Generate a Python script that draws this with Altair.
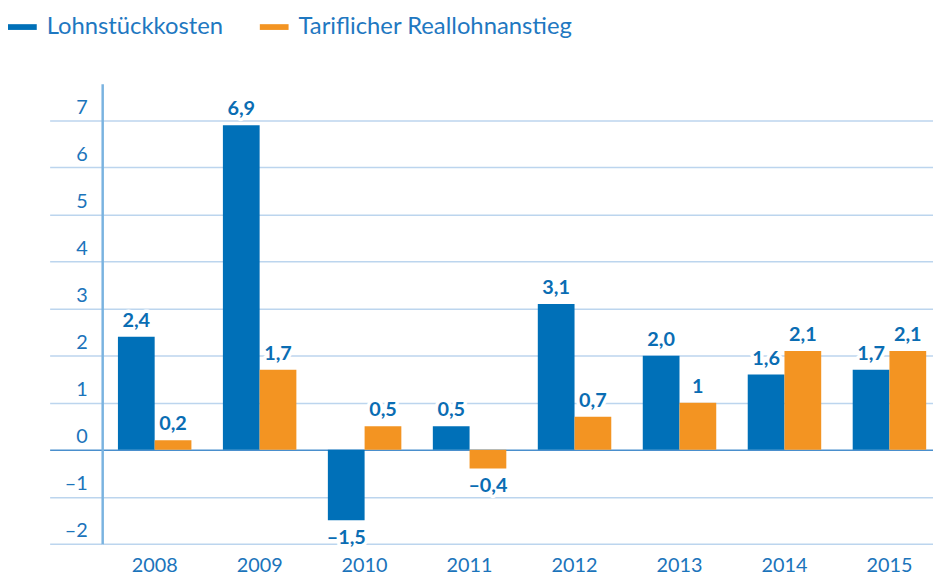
import altair as alt
import pandas as pd

years = ["2008", "2009", "2010", "2011", "2012", "2013", "2014", "2015"]
series = ["Lohnstückkosten", "Tariflicher Reallohnanstieg"]
lohn = [2.4, 6.9, -1.5, 0.5, 3.1, 2.0, 1.6, 1.7]
tarif = [0.2, 1.7, 0.5, -0.4, 0.7, 1.0, 2.1, 2.1]
lohn_labels = ["2,4", "6,9", "–1,5", "0,5", "3,1", "2,0", "1,6", "1,7"]
tarif_labels = ["0,2", "1,7", "0,5", "–0,4", "0,7", "1", "2,1", "2,1"]
y_ticks = [-2, -1, 0, 1, 2, 3, 4, 5, 6, 7]
colors = ["#0070b8", "#f39422"]

rows = []
for i, yr in enumerate(years):
    rows.append({"year": yr, "series": series[0], "value": lohn[i], "label": lohn_labels[i]})
    rows.append({"year": yr, "series": series[1], "value": tarif[i], "label": tarif_labels[i]})
df = pd.DataFrame(rows)

FONT = "Lato"
TEXT = "#1b74bb"
GRID = "#bcd5ee"

x_scale = alt.Scale(paddingInner=0.3, paddingOuter=0.15)

x_enc = alt.X(
    "year:N",
    sort=years,
    scale=x_scale,
    axis=alt.Axis(
        title=None, domain=False, ticks=False, labelAngle=0,
        labelFont=FONT, labelFontSize=20, labelColor=TEXT,
        labelPadding=12, labelBaseline="top",
    ),
)
xoff = alt.XOffset("series:N", sort=series)
y_scale = alt.Scale(domain=[-2, 7.78], nice=False, zero=False)

bars = alt.Chart(df).mark_bar().encode(
    x=x_enc,
    xOffset=xoff,
    y=alt.Y(
        "value:Q",
        scale=y_scale,
        axis=alt.Axis(
            title=None,
            values=y_ticks,
            grid=True,
            gridColor={"condition": {"test": "datum.value === 0", "value": "#4a8fcd"}, "value": GRID},
            gridWidth=1.5,
            tickColor={"condition": {"test": "datum.value === 0", "value": "#4a8fcd"}, "value": GRID},
            tickSize=53,
            tickWidth=1.5,
            domainColor="#7ab3e0",
            domainWidth=2.5,
            labelFont=FONT,
            labelFontSize=20,
            labelColor=TEXT,
            labelAlign="right",
            labelBaseline="middle",
            labelPadding=-38,
            labelOffset=-13,
            labelExpr="datum.value < 0 ? '–' + abs(datum.value) : '' + datum.value",
        ),
    ),
    color=alt.Color(
        "series:N",
        sort=series,
        scale=alt.Scale(domain=series, range=colors),
        legend=alt.Legend(
            title=None,
            orient="none",
            direction="horizontal",
            legendX=-95,
            legendY=-72,
            symbolType="M-1,-0.2H1V0.2H-1Z",
            symbolSize=841,
            symbolStrokeWidth=0,
            labelFont=FONT,
            labelFontSize=24,
            labelColor="#1f78c1",
            labelOffset=10,
            columnPadding=37,
            labelLimit=400,
        ),
    ),
)

def labels(filter_expr, dy, halo):
    base = alt.Chart(df).transform_filter(filter_expr)
    if halo:
        mk = base.mark_text(font=FONT, fontSize=20, fontWeight="bold", dy=dy,
                            baseline="alphabetic", stroke="white", strokeWidth=7,
                            color="white", strokeJoin="round")
    else:
        mk = base.mark_text(font=FONT, fontSize=20, fontWeight="bold", dy=dy,
                            baseline="alphabetic", color="#0a6db3")
    return mk.encode(
        x=alt.X("year:N", sort=years, scale=x_scale),
        xOffset=xoff,
        y=alt.Y("value:Q", scale=y_scale),
        text="label:N",
    )

pos_halo = labels("datum.value >= 0", -10, True)
pos_text = labels("datum.value >= 0", -10, False)
neg_halo = labels("datum.value < 0", 24, True)
neg_text = labels("datum.value < 0", 24, False)

chart = alt.layer(bars, pos_halo, neg_halo, pos_text, neg_text).properties(
    width=847,
    height=464,
    autosize=alt.AutoSizeParams(type="none"),
    padding={"left": 95, "top": 74, "right": -9, "bottom": 33},
).configure_view(stroke=None)

chart.save("out.html", embed_options={"renderer": "svg", "actions": False})
